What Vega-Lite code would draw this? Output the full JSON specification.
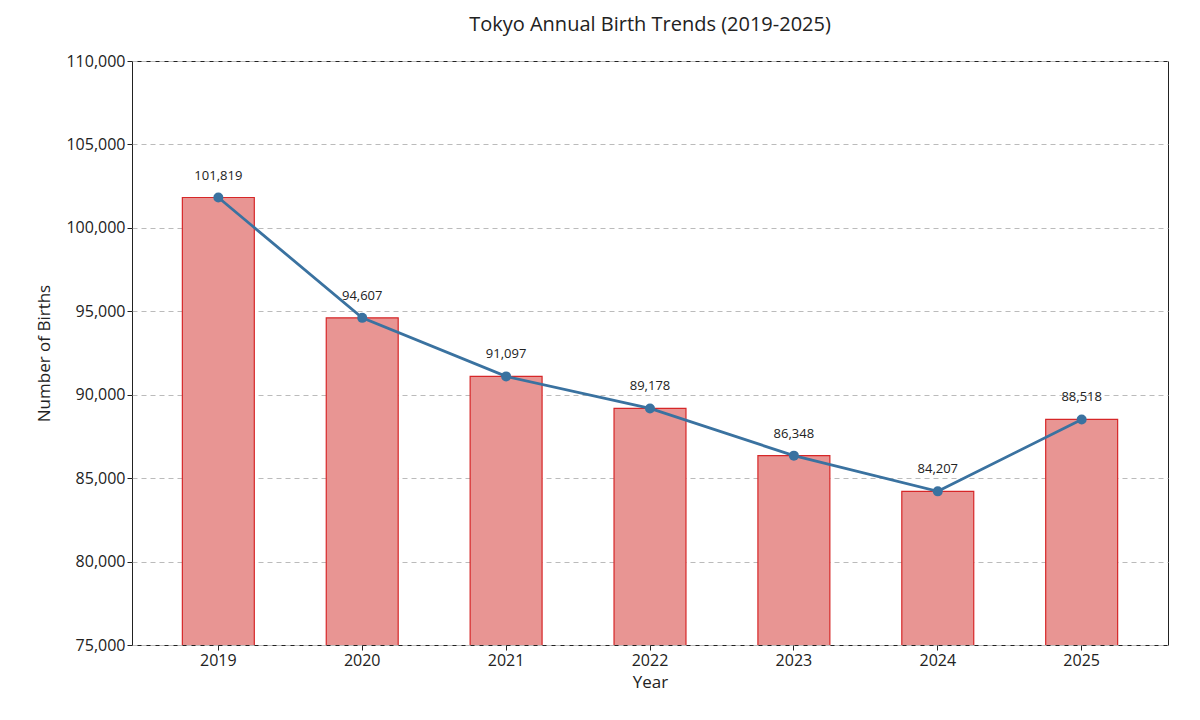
{
  "$schema": "https://vega.github.io/schema/vega-lite/v6.json",
  "width": 1036,
  "height": 584,
  "autosize": {"type": "none"},
  "padding": {"left": 132, "top": 61, "right": 32, "bottom": 75},
  "background": "white",
  "title": {"text": "Tokyo Annual Birth Trends (2019-2025)", "fontSize": 20, "fontWeight": "normal", "font": "Open Sans", "color": "#222", "offset": 18},
  "config": {
    "font": "Open Sans",
    "view": {"stroke": "#222", "strokeWidth": 1}
  },
  "data": {"values": [
    {"year": "2019", "births": 101819},
    {"year": "2020", "births": 94607},
    {"year": "2021", "births": 91097},
    {"year": "2022", "births": 89178},
    {"year": "2023", "births": 86348},
    {"year": "2024", "births": 84207},
    {"year": "2025", "births": 88518}
  ]},
  "encoding": {
    "x": {"field": "year", "type": "ordinal", "title": "Year",
      "scale": {"paddingInner": 0.5, "paddingOuter": 0.35},
      "axis": {"labelAngle": 0, "labelFontSize": 16, "titleFontSize": 17, "titleFontWeight": "normal", "labelColor": "#222", "titleColor": "#222", "domain": false, "tickColor": "#222", "titlePadding": 6}},
    "y": {"field": "births", "type": "quantitative", "title": "Number of Births",
      "scale": {"domain": [75000, 110000], "nice": false, "zero": false},
      "axis": {"values": [75000, 80000, 85000, 90000, 95000, 100000, 105000, 110000], "format": ",d", "labelFontSize": 16, "titleFontSize": 17, "titleFontWeight": "normal", "labelColor": "#222", "titleColor": "#222", "domain": false, "tickColor": "#222", "gridDash": [5, 4], "gridColor": "#bbb", "titlePadding": 12}}
  },
  "layer": [
    {"mark": {"type": "bar", "color": "#e89593", "stroke": "#d62728", "strokeWidth": 1.2, "clip": true}},
    {"mark": {"type": "line", "color": "#3a72a0", "strokeWidth": 2.8}},
    {"mark": {"type": "point", "filled": true, "color": "#3a72a0", "size": 100, "opacity": 1}},
    {"mark": {"type": "text", "dy": -22, "fontSize": 13, "color": "#222"},
      "encoding": {"text": {"field": "births", "type": "quantitative", "format": ","}}}
  ]
}
